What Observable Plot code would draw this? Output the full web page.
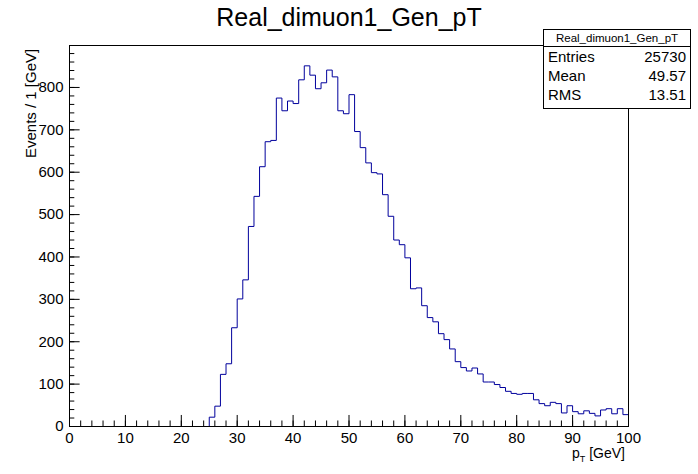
<!DOCTYPE html>
<html><head><meta charset="utf-8">
<script src="https://cdn.jsdelivr.net/npm/d3@7"></script>
<script src="https://cdn.jsdelivr.net/npm/@observablehq/plot@0.6"></script>
<style>
body{margin:0;background:#fff;font-family:"Liberation Sans",Arial,sans-serif}
#wrap{position:relative;width:698px;height:474px}
#title{position:absolute;top:3px;left:0;width:698px;text-align:center;font-size:25px}
#stats{position:absolute;left:543px;top:29px;width:146px;height:78px;border:1px solid #000;background:#fff;font-size:15px}
#stats .h{text-align:center;font-size:11.5px;border-bottom:1px solid #000;padding:2px 0 2px}
#stats .r{display:flex;justify-content:space-between;padding:0 4px;line-height:19px}
#xlab{position:absolute;left:572px;top:446px;font-size:14px;line-height:14px}
#ylab{position:absolute;left:22px;top:46px;font-size:15px;transform-origin:left top;transform:rotate(-90deg) translate(-112px,0)}
</style></head><body>
<div id="wrap">
<div id="title">Real_dimuon1_Gen_pT</div>
<div id="chart"></div>
<div id="stats"><div class="h">Real_dimuon1_Gen_pT</div>
<div class="r"><span>Entries</span><span>25730</span></div>
<div class="r"><span>Mean</span><span>49.57</span></div>
<div class="r"><span>RMS</span><span>13.51</span></div></div>
<div id="xlab">p<sub style="font-size:9px">T</sub> [GeV]</div>
<div id="ylab">Events / 1 [GeV]</div>
</div>
<script>
const binLow = d3.range(0, 100);
const counts = [
  0,0,0,0,0,0,0,0,0,0, 0,0,0,0,0,0,0,0,0,0, 0,0,0,0,0,
  22,48,123,148,233,301,346,472,543,613,672,675,775,745,768,762,818,851,829,797,
  811,841,825,745,738,783,696,658,622,599,596,547,496,440,429,398,325,327,285,257,
  247,219,205,183,153,139,131,138,124,105,105,99,92,83,78,76,78,78,63,54,
  49,57,54,32,49,35,30,37,31,25,39,42,30,42,28
];
const pts = binLow.map((x, i) => ({x, y: counts[i]}));
pts.push({x: 100, y: counts[99]});

const xMajor = d3.range(0, 101, 10), xMinor = d3.range(0, 101, 2);
const yMajor = d3.range(0, 801, 100), yMinor = d3.range(0, 881, 20);

const chart = Plot.plot({
  width: 698, height: 474,
  marginLeft: 69, marginRight: 70, marginTop: 45, marginBottom: 48,
  style: {fontFamily: "Liberation Sans, Arial, sans-serif", fontSize: "15px", color: "#000"},
  x: {domain: [0, 100], ticks: xMajor, tickSize: 0, label: null, tickPadding: 6},
  y: {domain: [0, 899], ticks: yMajor, tickSize: 0, label: null, tickPadding: 6},
  marks: [
    Plot.ruleX(xMajor, {y1: 0, y2: 26, stroke: "#000"}),
    Plot.ruleX(xMinor, {y1: 0, y2: 13, stroke: "#000"}),
    Plot.ruleY(yMajor, {x1: 0, x2: 1.9, stroke: "#000"}),
    Plot.ruleY(yMinor, {x1: 0, x2: 0.95, stroke: "#000"}),
    Plot.line(pts, {x: "x", y: "y", curve: "step-after", stroke: "#00009c", strokeWidth: 1}),
    Plot.frame({stroke: "#000"})
  ]
});
document.getElementById("chart").appendChild(chart);
</script>
</body></html>
